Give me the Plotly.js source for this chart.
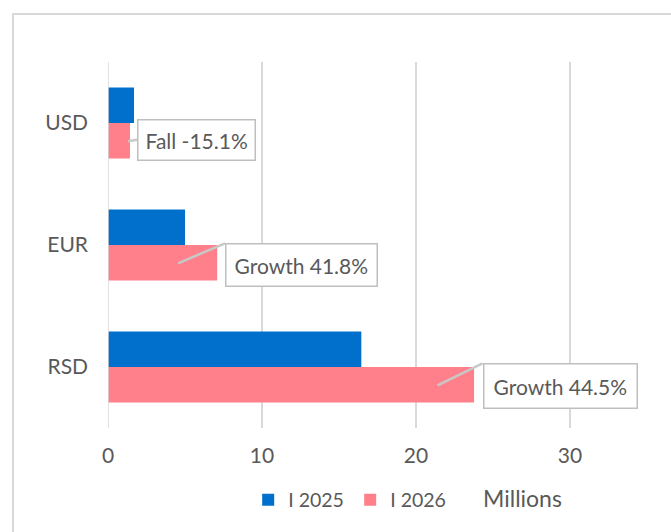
<!DOCTYPE html>
<html>
<head>
<meta charset="utf-8">
<script src="https://cdn.plot.ly/plotly-3.0.1.min.js"></script>
<style>html,body{margin:0;padding:0;background:#fff;}#chart{width:671px;height:532px;}</style>
</head>
<body>
<div id="chart"></div>
<script>
const categories = ['USD', 'EUR', 'RSD'];
const seriesNames = ['I 2025', 'I 2026'];
const values2025 = [1.69, 5.0, 16.45];
const values2026 = [1.43, 7.09, 23.77];
const calloutTexts = ['Fall -15.1%', 'Growth 41.8%', 'Growth 44.5%'];
const calloutTipX = [1.3, 4.55, 21.4];
const xTicks = [0, 10, 20, 30];
const unitLabel = 'Millions';

const FONT = 'Lato, "Open Sans", sans-serif';
const GREY = '#595959';

const traces = [
  {type: 'bar', orientation: 'h', name: seriesNames[0], y: categories, x: values2025,
   marker: {color: '#0070cc'}, hoverinfo: 'skip'},
  {type: 'bar', orientation: 'h', name: seriesNames[1], y: categories, x: values2026,
   marker: {color: '#ff808a'}, hoverinfo: 'skip'}
];

// callout box placement (pixels from the tip) and anchoring
const calloutStyle = [
  {ax: 9, ay: -1.5, yanchor: 'middle', pad: 7},
  {ax: 47, ay: -20, yanchor: 'top', pad: 8},
  {ax: 45, ay: -22, yanchor: 'top', pad: 9}
];
const annotations = calloutTexts.map((t, i) => ({
  x: calloutTipX[i], y: i + 0.15, xref: 'x', yref: 'y',
  text: t, showarrow: true, arrowhead: 0, arrowwidth: 2.5, arrowcolor: '#c8c8c8',
  ax: calloutStyle[i].ax, ay: calloutStyle[i].ay, xanchor: 'left', yanchor: calloutStyle[i].yanchor,
  standoff: 0,
  bgcolor: '#ffffff', bordercolor: '#bfbfbf', borderwidth: 1.5, borderpad: calloutStyle[i].pad,
  font: {family: FONT, size: 21, color: GREY}
}));
annotations.push({
  xref: 'paper', yref: 'paper', x: 0.662, y: -0.19, xanchor: 'left', yanchor: 'middle',
  text: unitLabel, showarrow: false, font: {family: FONT, size: 23, color: GREY}
});

const layout = {
  width: 671, height: 532,
  margin: {l: 108, r: 0, t: 62, b: 104},
  paper_bgcolor: '#ffffff', plot_bgcolor: '#ffffff',
  font: {family: FONT, size: 21, color: GREY},
  barmode: 'group', bargap: 0.418, bargroupgap: 0,
  showlegend: true,
  legend: {orientation: 'h', x: 0.249, y: -0.197, xanchor: 'left', yanchor: 'middle',
           font: {family: FONT, size: 19.5, color: GREY}, itemwidth: 30, tracegroupgap: 0,
           entrywidth: 57},
  xaxis: {range: [0, 36.56], tickvals: xTicks, ticktext: xTicks.map(String),
          showgrid: true, gridcolor: '#d9d9d9', gridwidth: 1.5, zeroline: false,
          showline: false, ticks: '', ticklabelstandoff: 13, fixedrange: true},
  yaxis: {type: 'category', categoryorder: 'array', categoryarray: categories,
          range: [2.5, -0.5], showgrid: false, zeroline: false, showline: false,
          ticks: '', ticklabelstandoff: 19, fixedrange: true},
  shapes: [
    {type: 'line', xref: 'x', yref: 'paper', x0: 0, x1: 0, y0: 0, y1: 1,
     line: {color: '#d9d9d9', width: 1.5}},
    {type: 'rect', xref: 'paper', yref: 'paper', x0: -0.1687, x1: 1.2, y0: -0.4, y1: 1.131,
     line: {color: '#d9d9d9', width: 2}, layer: 'below'}
  ],
  annotations: annotations
};

Plotly.newPlot('chart', traces, layout, {displayModeBar: false, staticPlot: true});
</script>
</body>
</html>
